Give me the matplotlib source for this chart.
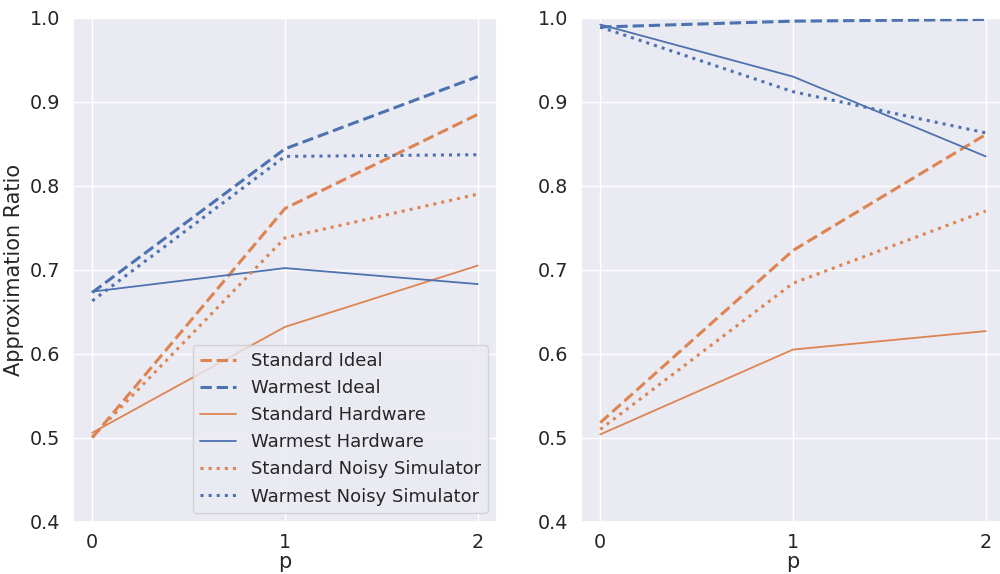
import numpy as np
import matplotlib
matplotlib.use("Agg")
import matplotlib.pyplot as plt
import seaborn as sns

sns.set_theme(style="darkgrid", font_scale=1.25)

p = [0, 1, 2]

# left panel
left_std_ideal = [0.500, 0.773, 0.885]
left_warm_ideal = [0.673, 0.844, 0.930]
left_std_hw = [0.506, 0.632, 0.705]
left_warm_hw = [0.674, 0.702, 0.683]
left_std_noisy = [0.501, 0.738, 0.790]
left_warm_noisy = [0.663, 0.835, 0.837]

# right panel
right_std_ideal = [0.518, 0.723, 0.861]
right_warm_ideal = [0.989, 0.996, 0.998]
right_std_hw = [0.504, 0.605, 0.627]
right_warm_hw = [0.992, 0.930, 0.835]
right_std_noisy = [0.510, 0.684, 0.770]
right_warm_noisy = [0.989, 0.912, 0.863]

orange = sns.color_palette()[1]
blue = sns.color_palette()[0]

fig, axes = plt.subplots(1, 2, figsize=(10, 5.74), dpi=100)
fig.subplots_adjust(left=0.073, right=1.005, bottom=0.091, top=0.969, wspace=0.198)

panels = [
    (left_std_ideal, left_warm_ideal, left_std_hw, left_warm_hw, left_std_noisy, left_warm_noisy),
    (right_std_ideal, right_warm_ideal, right_std_hw, right_warm_hw, right_std_noisy, right_warm_noisy),
]

for ax, (si, wi, sh, wh, sn, wn) in zip(axes, panels):
    ax.plot(p, si, color=orange, ls="--", lw=2.2, label="Standard Ideal")
    ax.plot(p, wi, color=blue, ls="--", lw=2.2, label="Warmest Ideal")
    ax.plot(p, sh, color=orange, ls="-", lw=1.3, label="Standard Hardware")
    ax.plot(p, wh, color=blue, ls="-", lw=1.3, label="Warmest Hardware")
    ax.plot(p, sn, color=orange, ls=":", lw=2.2, label="Standard Noisy Simulator")
    ax.plot(p, wn, color=blue, ls=":", lw=2.2, label="Warmest Noisy Simulator")
    ax.set_ylim(0.4, 1.0)
    ax.set_xticks(p)
    ax.tick_params(axis="x", pad=2)
    ax.set_xlabel("p", fontsize=15, labelpad=0)

axes[0].set_ylabel("Approximation Ratio", fontsize=15)
axes[0].legend(loc="lower right", fontsize=13)

fig.savefig("out.png")
